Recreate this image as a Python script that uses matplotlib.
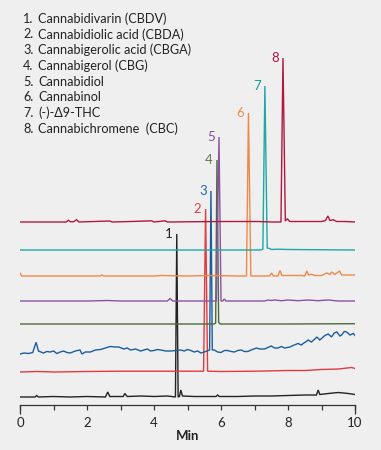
import matplotlib
matplotlib.use("Agg")
import matplotlib.pyplot as plt
from matplotlib.ticker import FixedLocator

plt.rcParams['font.family'] = ['Lato', 'DejaVu Sans']

# ---------------- data ----------------
compounds = ["Cannabidivarin (CBDV)", "Cannabidiolic acid (CBDA)",
             "Cannabigerolic acid (CBGA)", "Cannabigerol (CBG)",
             "Cannabidiol", "Cannabinol", "(-)-Δ9-THC",
             "Cannabichromene  (CBC)"]
peak_labels = ["1", "2", "3", "4", "5", "6", "7", "8"]
peak_times = [4.68, 5.54, 5.70, 5.88, 5.94, 6.82, 7.31, 7.85]
peak_heights = [163, 163, 161, 164, 164, 163, 164, 164]
trace_offsets = [8, 33, 53, 81, 104, 129, 155, 183]
trace_colors = ["#222222", "#e23b3f", "#1c5d9c", "#4c6a3a",
                "#8a52a4", "#f0884a", "#1fa6a6", "#b3173f"]
label_colors = ["#222222", "#e0404a", "#2a66aa", "#5e7a48",
                "#7e4f9e", "#ef8a50", "#1a9a9a", "#b3173f"]

# chromatogram traces: (time [min], signal above own baseline)
t1 = [0, 0.45, 0.5, 0.55, 1.0, 1.5, 2.0, 2.55, 2.62, 2.68, 3.08, 3.13, 3.2,
      3.6, 4.0, 4.4, 4.64, 4.68, 4.72, 4.76, 4.8, 4.85, 5.2, 5.85, 5.9, 5.95,
      6.5, 7.0, 7.5, 8.0, 8.5, 8.85, 8.9, 8.95, 9.2, 9.5, 9.8, 10]
s1 = [0, 0, 1.5, 0, 0.5, 0, 0.5, 0, 5, 0.5, 0.5, 3.5, 0.5,
      1, 0.5, 1, 0, 163, 0, 0.5, 7, 1, 0.5, 0.5, 2, 0.5,
      0.5, 1, 1, 1.5, 2, 2, 7, 2.5, 3.5, 4.5, 3.5, 2.5]

t2 = [0, 0.5, 1, 2, 3, 4, 5, 5.48, 5.54, 5.6, 6, 7, 8, 8.5, 9, 9.5, 9.9, 10]
s2 = [0, 0.5, 0, 0.5, 0.8, 0.8, 0.8, 0.8, 163, 0.8, 0.5, 0.8, 1.5, 1.5,
      2.5, 3, 4.5, 3.5]

t3 = [0, 0.12, 0.25, 0.38, 0.48, 0.55, 0.7, 0.8, 0.9, 1.0, 1.1, 1.2, 1.3,
      1.4, 1.5, 1.65, 1.79, 1.85, 1.95, 2.1, 2.25, 2.4, 2.55, 2.69, 2.85,
      2.95, 3.1, 3.2, 3.3, 3.45, 3.6, 3.7, 3.8, 3.9, 4.0, 4.1, 4.2, 4.35,
      4.5, 4.65, 4.8, 4.9, 5.0, 5.1, 5.2, 5.3, 5.4, 5.5, 5.66, 5.70, 5.74,
      5.8, 5.9, 6.0, 6.1, 6.2, 6.3, 6.4, 6.5, 6.6, 6.7, 6.8, 6.9, 7.06, 7.15,
      7.3, 7.4, 7.5, 7.6, 7.7, 7.8, 7.9, 8.06, 8.15, 8.3, 8.4, 8.46, 8.55,
      8.6, 8.7, 8.8, 8.86, 8.95, 9.0, 9.1, 9.2, 9.3, 9.38, 9.46, 9.55, 9.6,
      9.68, 9.75, 9.85, 9.95, 10]
s3 = [-2, -1, -1.5, -0.5, 9.7, 1, -1, 0.5, 0, 1, -1.5, 0, 1,
      -0.5, -1, 1, 2, -2, 0, 0, 2, 2.5, 4, 5.5, 5,
      5, 3, 4, 2, 3, 1, 2, 3, 1, 1.5, 2.5, 2, 1,
      1, 1.5, 2, 1, 2.5, 1.5, 0, 1, -1, 0, 2, 161, 2,
      2, 0, -0.5, 1.5, 1.5, 0.5, 0, 1.5, 2, 0.5, 0.5, 2, 4, 3,
      3, 4.5, 6, 4, 4, 5.5, 4, 5, 6.5, 8.5, 7, 8.7, 10.5,
      12, 10, 13, 15, 12, 13.5, 16.5, 18, 15, 19, 20, 16, 17,
      20.5, 20, 17, 18.5, 16.5]

t4 = [0, 3, 5.8, 5.84, 5.88, 5.93, 5.98, 8, 10]
s4 = [0, 0, 0, 1, 164, 1.5, 0, 0, 0.3]

t5 = [0, 1, 2, 2.6, 3, 4.4, 4.48, 4.56, 5.86, 5.94, 6.0, 6.05, 6.1, 6.15,
      7.3, 7.4, 7.5, 7.6, 7.8, 8.0, 8.3, 8.6, 8.9, 9.2, 9.5, 10]
s5 = [0, 0, 0, 0.5, 0, 0, 2.5, 0, 0, 164, 0, 0, 2, 0,
      0, 1, 0.5, 1, 0.3, 1, 0.3, 1, 0.3, 1, 0, 0]

t6 = [0, 0.05, 1, 2.4, 2.45, 2.5, 4, 4.2, 5, 5.7, 6.5, 6.76, 6.82, 6.89,
      7.3, 7.45, 7.51, 7.56, 7.7, 7.76, 7.82, 8.4, 8.5, 8.56, 8.62, 8.7,
      8.8, 9.0, 9.16, 9.25, 9.3, 9.4, 9.54, 9.6, 9.9, 10]
s6 = [3, 0, 0, 0, 1, 0, 0, 0.5, 0, 0.5, 0, 0, 163, 0,
      0, 0, 3, 0, 0, 5.5, 0.5, 0.5, 0, 5, 1, 1.7,
      0.5, 0.5, 3, 1.5, 4, 1.5, 5, 1, 1, 1]

t7 = [0, 2, 7.2, 7.25, 7.31, 7.38, 7.45, 7.5, 7.7, 8, 10]
s7 = [0, 0, 0, 1, 164, 2, 1.5, 0.5, 0.8, 0.5, 0]

t8 = [0, 1.38, 1.44, 1.5, 1.6, 1.69, 1.76, 2.68, 2.75, 3.3, 3.93, 4.0, 4.33,
      4.4, 5.3, 6.2, 7.1, 7.5, 7.79, 7.85, 7.92, 7.98, 8.05, 8.5, 9.0, 9.12,
      9.19, 9.25, 9.35, 9.45, 9.7, 10]
s8 = [0, 0, 1.7, 0.3, 0.3, 2.3, 0, 1, 0, 0.5, 1.2, 0, 1.2,
      0, 0.3, 0.5, 0.5, 0, 0, 164, 1, 3.3, 0.5, 0.5, 0.5, 1.5,
      6, 1.5, 2.3, 0.5, 0.5, 0]

trace_times = [t1, t2, t3, t4, t5, t6, t7, t8]
trace_signals = [s1, s2, s3, s4, s5, s6, s7, s8]

x_ticks = [0, 1, 2, 3, 4, 5, 6, 7, 8, 9, 10]
x_ticklabels = ["0", "", "2", "", "4", "", "6", "", "8", "", "10"]
x_label = "Min"

# ---------------- figure ----------------
W, H = 381, 450
bg = "#efefef"
fs_tick = 9.5
fs_peak = 9.5
fig = plt.figure(figsize=(W / 100, H / 100), dpi=100, facecolor=bg)
ax = fig.add_axes([20 / W, 45 / H, 335 / W, 405 / H])
ax.set_facecolor(bg)

for i in range(len(trace_times)):
    off = trace_offsets[i]
    ax.plot(trace_times[i], [v + off for v in trace_signals[i]],
            color=trace_colors[i], lw=1.0, solid_joinstyle='miter', zorder=2 + i * 0.01)
    top = off + peak_heights[i]
    ax.annotate(peak_labels[i], xy=(peak_times[i], top), xytext=(-8, 0),
                textcoords='offset pixels', ha='center', va='center',
                fontsize=fs_peak, color=label_colors[i])

ax.set_xlim(0, 10)
ax.set_ylim(0, 405)
for sp in ['left', 'top', 'right']:
    ax.spines[sp].set_visible(False)
ax.spines['bottom'].set_color('#333333')
ax.spines['bottom'].set_linewidth(0.9)
ax.set_yticks([])
ax.set_xticks(x_ticks)
ax.set_xticklabels(x_ticklabels)
ax.xaxis.remove_overlapping_locs = False
ax.xaxis.set_minor_locator(FixedLocator([x_ticks[0], x_ticks[-1]]))
ax.tick_params(axis='x', which='major', length=3.3, width=0.9, color='#333333',
               pad=5, labelsize=fs_tick, labelcolor='#222222')
ax.tick_params(axis='x', which='minor', length=6.5, width=0.9, color='#333333')
ax.set_xlabel(x_label, fontsize=fs_tick, fontweight='bold', color='#222222', labelpad=1)

# compound list: fit font size so the widest line spans the reference width
renderer = fig.canvas.get_renderer()
probe = fig.text(0, 0, compounds[2], fontsize=10)
w10 = probe.get_window_extent(renderer).width
probe.remove()
fs_list = 10 * 152.0 / w10

for k, name in enumerate(compounds):
    y = 1 - (18.7 + 15.7 * k) / H
    fig.text(33.5 / W, y, f"{k + 1}.", ha='right', va='center', fontsize=fs_list,
             color='#222222')
    fig.text(38.3 / W, y, name, ha='left', va='center', fontsize=fs_list,
             color='#222222')

fig.savefig("out.png", dpi=100, facecolor=bg)
